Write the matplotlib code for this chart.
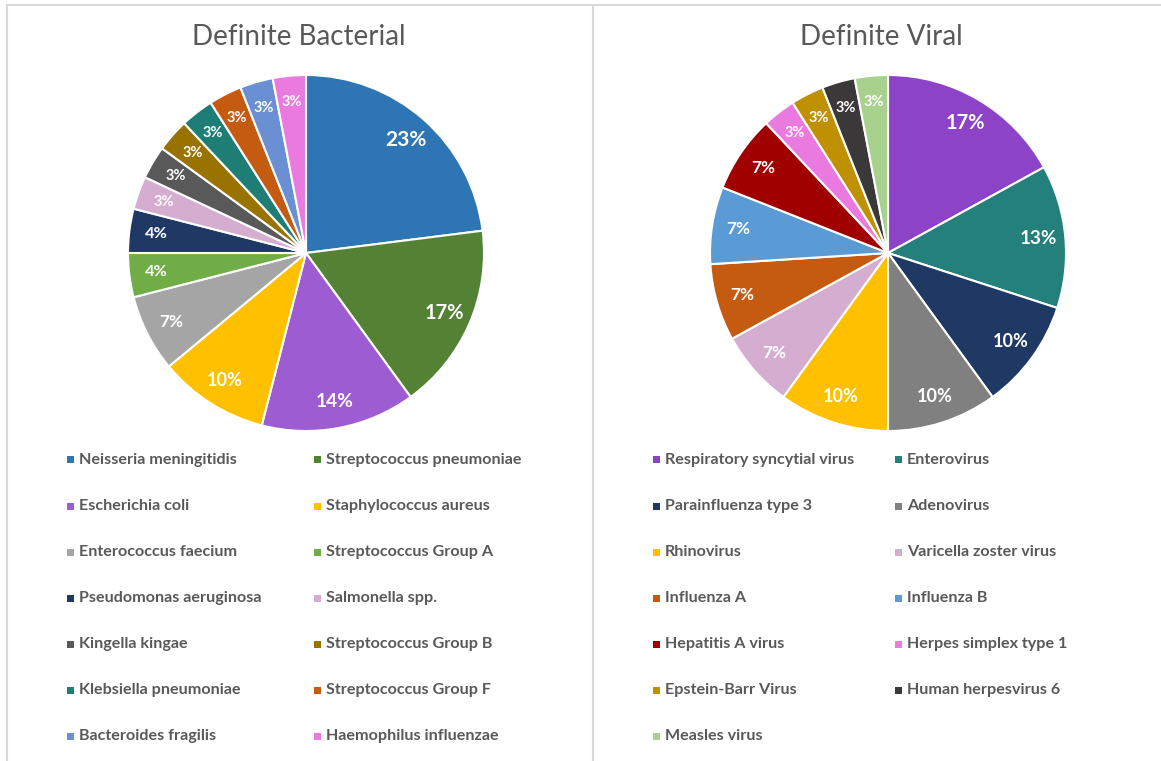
import matplotlib.pyplot as plt
from matplotlib.lines import Line2D
from matplotlib.patches import Rectangle

plt.rcParams['font.family'] = ['Lato', 'DejaVu Sans']

bact_names = ['Neisseria meningitidis', 'Streptococcus pneumoniae', 'Escherichia coli',
              'Staphylococcus aureus', 'Enterococcus faecium', 'Streptococcus Group A',
              'Pseudomonas aeruginosa', 'Salmonella spp.', 'Kingella kingae',
              'Streptococcus Group B', 'Klebsiella pneumoniae', 'Streptococcus Group F',
              'Bacteroides fragilis', 'Haemophilus influenzae']
bact_pct = [23, 17, 14, 10, 7, 4, 4, 3, 3, 3, 3, 3, 3, 3]
bact_colors = ['#2E75B6', '#548235', '#9E5CD3', '#FFC000', '#A5A5A5', '#70AD47', '#203864',
               '#D5ADD0', '#595959', '#997300', '#1E7D74', '#C55A11', '#6A8FD2', '#EA7ADF']

viral_names = ['Respiratory syncytial virus', 'Enterovirus', 'Parainfluenza type 3',
               'Adenovirus', 'Rhinovirus', 'Varicella zoster virus', 'Influenza A',
               'Influenza B', 'Hepatitis A virus', 'Herpes simplex type 1',
               'Epstein-Barr Virus', 'Human herpesvirus 6', 'Measles virus']
viral_pct = [17, 13, 10, 10, 10, 7, 7, 7, 7, 3, 3, 3, 3]
viral_colors = ['#8C43C8', '#23807A', '#1F3864', '#808080', '#FFC000', '#D5ADD0', '#C55A11',
                '#5B9BD5', '#A00000', '#EA7ADF', '#BF9000', '#3A3838', '#A9D18E']

W, H = 1161, 761
fig = plt.figure(figsize=(W / 100, H / 100), dpi=100)

# panel frame lines
grey = '#D9D9D9'
fig.add_artist(Line2D([7 / W, 1], [1 - 5 / H, 1 - 5 / H], color=grey, lw=1.5))
fig.add_artist(Line2D([7 / W, 7 / W], [0, 1 - 5 / H], color=grey, lw=1.5))
fig.add_artist(Line2D([593 / W, 593 / W], [0, 1 - 5 / H], color=grey, lw=1.5))


def label_size(v):
    if v <= 3:
        return 10.5
    return min(15, 11 + 0.2 * v)


def draw_panel(cx, title, names, pct, colors, leg_x):
    r = 178
    ax = fig.add_axes([(cx - r) / W, 1 - (253 + r) / H, 2 * r / W, 2 * r / H])
    wedges, texts, autos = ax.pie(pct, colors=colors, startangle=90, counterclock=False,
                                  autopct='%d%%', pctdistance=0.85,
                                  wedgeprops=dict(edgecolor='white', linewidth=1.5))
    for a, v in zip(autos, pct):
        a.set_color('white')
        a.set_fontweight('bold')
        a.set_fontsize(label_size(v))
        a.set_text('%d%%' % v)
    ax.set_xlim(-1, 1)
    ax.set_ylim(-1, 1)
    ax.axis('off')

    fig.text((cx - 7) / W, 1 - 37 / H, title, ha='center', va='center',
             fontsize=20, color='#595959')

    for i, (n, c) in enumerate(zip(names, colors)):
        row, col = divmod(i, 2)
        mx = leg_x[col]
        y = 460 + row * 46
        fig.add_artist(Rectangle(((mx - 3.5) / W, 1 - (y + 3.5) / H), 7 / W, 7 / H,
                                 facecolor=c, edgecolor='none'))
        fig.text((mx + 9) / W, 1 - y / H, n, ha='left', va='center',
                 fontsize=11.6, fontweight='bold', color='#595959')


draw_panel(306, 'Definite Bacterial', bact_names, bact_pct, bact_colors, [70, 317])
draw_panel(888, 'Definite Viral', viral_names, viral_pct, viral_colors, [656, 898])

fig.savefig('out.png', dpi=100)
